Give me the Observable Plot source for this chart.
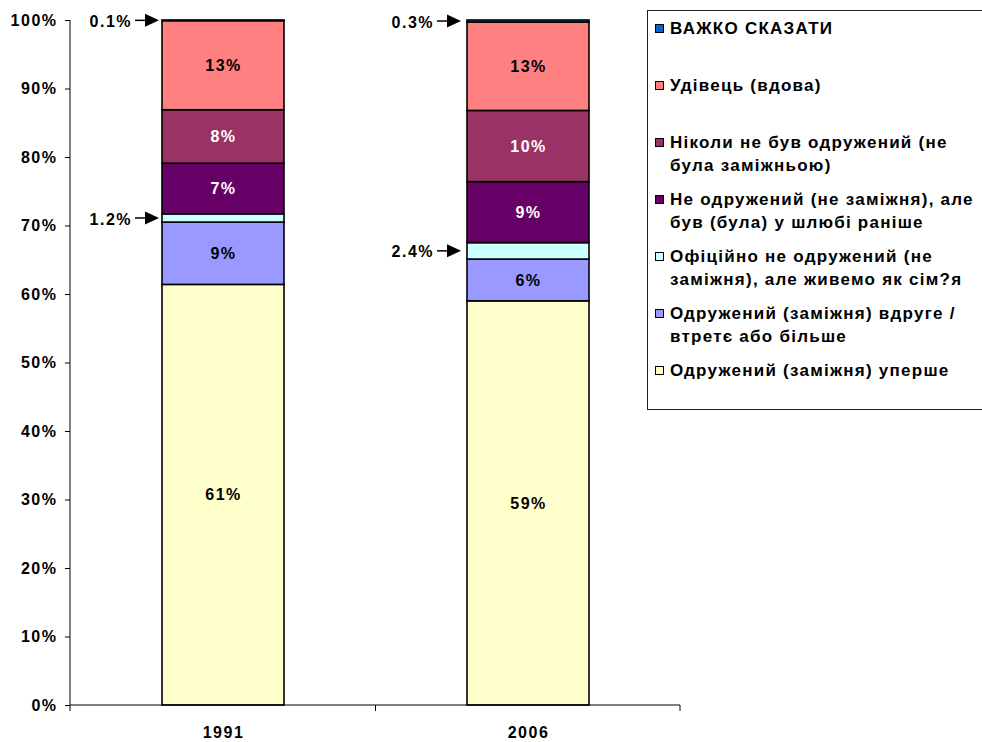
<!DOCTYPE html>
<html><head><meta charset="utf-8">
<script src="https://cdn.jsdelivr.net/npm/d3@7"></script>
<script src="https://cdn.jsdelivr.net/npm/@observablehq/plot@0.6"></script>
<style>
body{margin:0;background:#fff;}
#wrap{position:relative;width:982px;height:742px;overflow:hidden;font-family:"Liberation Sans",Arial,sans-serif;}
#legend{position:absolute;left:647px;top:10px;width:345px;height:400px;border:1px solid #222;box-sizing:border-box;background:#fff;}
.item{position:relative;height:57px;}
.sw{position:absolute;left:7px;top:13px;width:7px;height:7px;border:1px solid #000;}
.txt{position:absolute;left:22px;top:6px;font-weight:bold;font-size:17px;line-height:23px;letter-spacing:1.25px;white-space:nowrap;color:#000;}
</style>
</head><body>
<div id="wrap"><div id="chart"></div><div id="legend"></div></div>
<script>
const years = ["1991", "2006"];
const categories = [
  "Одружений (заміжня) уперше",
  "Одружений (заміжня) вдруге / втретє або більше",
  "Офіційно не одружений (не заміжня), але живемо як сім?я",
  "Не одружений (не заміжня), але був (була) у шлюбі раніше",
  "Ніколи не був одружений (не була заміжньою)",
  "Удівець (вдова)",
  "ВАЖКО СКАЗАТИ"
];
const legendLines = [
  ["Одружений (заміжня) уперше"],
  ["Одружений (заміжня) вдруге /", "втретє або більше"],
  ["Офіційно не одружений (не", "заміжня), але живемо як сім?я"],
  ["Не одружений (не заміжня), але", "був (була) у шлюбі раніше"],
  ["Ніколи не був одружений (не", "була заміжньою)"],
  ["Удівець (вдова)"],
  ["ВАЖКО СКАЗАТИ"]
];
const values1991 = [61.4, 9.1, 1.2, 7.4, 7.8, 13.0, 0.1];
const values2006 = [59.0, 6.1, 2.4, 8.9, 10.4, 12.9, 0.3];
const colors = ["#FFFFCC", "#9999FF", "#CCFFFF", "#660066", "#993366", "#FF8080", "#0066CC"];
const darkCategories = [categories[3], categories[4]];
const yTicks = [0, 10, 20, 30, 40, 50, 60, 70, 80, 90, 100];

const seriesByYear = {"1991": values1991, "2006": values2006};
const rows = [];
for (const yr of years) seriesByYear[yr].forEach((v, i) => rows.push({year: yr, category: categories[i], value: v}));

const fmt = v => v >= 5 ? Math.round(v) + "%" : v.toFixed(1) + "%";
const isDark = d => darkCategories.includes(d.category);

function decorations(index, scales, values, dimensions) {
  const x = scales.x, y = scales.y;
  const {width, marginLeft, marginRight} = dimensions;
  const x0 = marginLeft, x1 = width - marginRight;
  const bw = x.bandwidth ? x.bandwidth() : 121;
  const g = d3.create("svg:g").attr("stroke", "black").attr("fill", "none");
  const yb = y(0);
  g.append("line").attr("x1", x0).attr("x2", x0).attr("y1", y(100)).attr("y2", yb);
  g.append("line").attr("x1", x0).attr("x2", x1).attr("y1", yb).attr("y2", yb);
  const mid = (x(years[0]) + bw + x(years[1])) / 2;
  for (const xe of [x0, mid, x1]) g.append("line").attr("x1", xe).attr("x2", xe).attr("y1", yb).attr("y2", yb + 6);
  // arrows for small segments
  const a = d3.create("svg:g");
  years.forEach((yr, k) => {
    let cum = 0;
    seriesByYear[yr].forEach(v => {
      const c = cum + v / 2;
      cum += v;
      if (v >= 5) return;
      const tip = x(yr) - (k === 0 ? 3 : 6);
      const yy = y(c);
      const start = tip - 24;
      a.append("line").attr("x1", start).attr("x2", tip - 10).attr("y1", yy).attr("y2", yy).attr("stroke", "black").attr("stroke-width", 1.5);
      a.append("path").attr("d", `M${tip},${yy}L${tip - 14},${yy - 6.5}L${tip - 14},${yy + 6.5}Z`).attr("fill", "black");
      a.append("text").attr("x", start - 3).attr("y", yy + 1).attr("dy", "0.35em").attr("text-anchor", "end")
        .attr("fill", "black").text(fmt(v));
    });
  });
  const root = d3.create("svg:g");
  root.append(() => g.node());
  root.append(() => a.node());
  return root.node();
}

const chart = Plot.plot({
  width: 982,
  height: 742,
  marginLeft: 70,
  marginRight: 302,
  marginTop: 20,
  marginBottom: 37,
  style: {fontFamily: "Liberation Sans, Arial, sans-serif", fontSize: "16px", fontWeight: "bold", color: "black", background: "white", letterSpacing: "1.5px"},
  x: {domain: years, paddingInner: 0.6, paddingOuter: 0.3, tickSize: 0, tickPadding: 21, label: null},
  y: {domain: [0, 100], ticks: yTicks, tickSize: 5, tickPadding: 8, tickFormat: d => d + "%", label: null},
  color: {domain: categories, range: colors},
  marks: [
    Plot.barY(rows, {x: "year", y: "value", z: "category", fill: "category", stroke: "black", strokeWidth: 1.6}),
    Plot.text(rows, Plot.stackY({x: "year", y: "value", z: "category", text: d => d.value >= 5 && !isDark(d) ? fmt(d.value) : "", fill: "black", fontSize: 16, fontWeight: "bold"})),
    Plot.text(rows, Plot.stackY({x: "year", y: "value", z: "category", text: d => d.value >= 5 && isDark(d) ? fmt(d.value) : "", fill: "white", fontSize: 16, fontWeight: "bold"})),
    decorations
  ]
});
document.getElementById("chart").appendChild(chart);

const legend = document.getElementById("legend");
for (let i = categories.length - 1; i >= 0; i--) {
  const item = document.createElement("div");
  item.className = "item";
  const sw = document.createElement("div");
  sw.className = "sw";
  sw.style.background = colors[i];
  const txt = document.createElement("div");
  txt.className = "txt";
  legendLines[i].forEach((line, j) => {
    if (j) txt.appendChild(document.createElement("br"));
    txt.appendChild(document.createTextNode(line));
  });
  item.appendChild(sw);
  item.appendChild(txt);
  legend.appendChild(item);
}
</script>
</body></html>
